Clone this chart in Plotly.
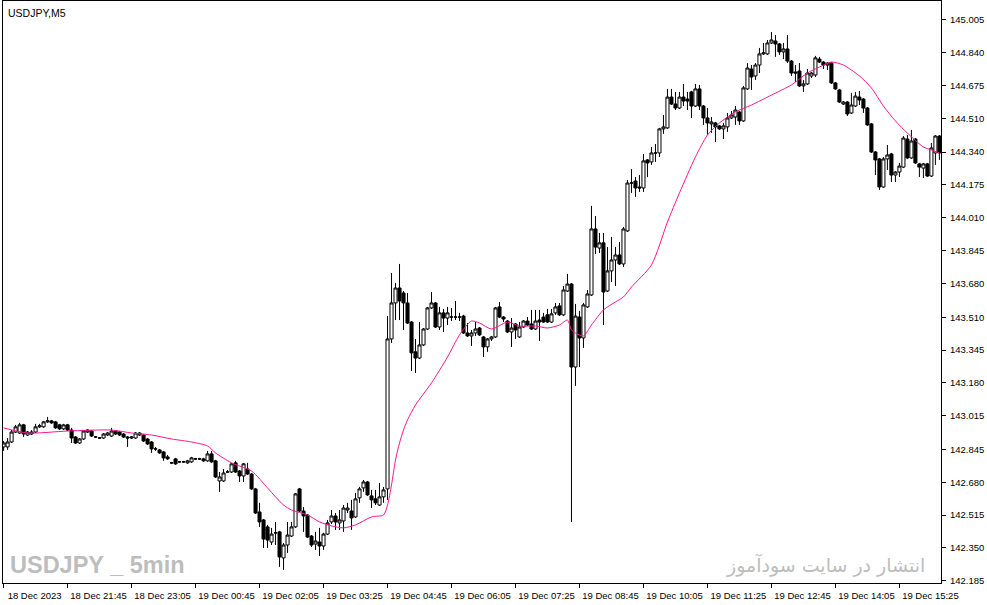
# USDJPY M5 candles with moving average, MetaTrader style
import plotly.graph_objects as go

# OHLC values, one per 5 minute bar
opens = [
    142.858, 142.858, 142.883, 142.933, 142.928, 142.969, 142.918, 142.923, 142.933, 142.959,
    142.959, 142.984, 142.989, 142.984, 142.969, 142.949, 142.969, 142.943, 142.908, 142.878,
    142.898, 142.933, 142.938, 142.908, 142.903, 142.903, 142.918, 142.913, 142.938, 142.933,
    142.923, 142.908, 142.903, 142.903, 142.918, 142.918, 142.898, 142.883, 142.848, 142.843,
    142.833, 142.808, 142.778, 142.798, 142.783, 142.783, 142.778, 142.783, 142.798, 142.798,
    142.798, 142.788, 142.823, 142.788, 142.687, 142.687, 142.732, 142.732, 142.778, 142.737,
    142.712, 142.747, 142.722, 142.647, 142.531, 142.491, 142.456, 142.380, 142.426, 142.431,
    142.300, 142.365, 142.410, 142.456, 142.647, 142.536, 142.516, 142.410, 142.370, 142.380,
    142.360, 142.420, 142.481, 142.511, 142.476, 142.486, 142.541, 142.536, 142.506, 142.602,
    142.652, 142.682, 142.612, 142.597, 142.566, 142.607, 142.647, 143.401, 143.582, 143.657,
    143.632, 143.582, 143.486, 143.336, 143.305, 143.371, 143.451, 143.557, 143.582, 143.461,
    143.532, 143.506, 143.511, 143.511, 143.511, 143.516, 143.431, 143.416, 143.431, 143.456,
    143.411, 143.361, 143.401, 143.411, 143.562, 143.511, 143.491, 143.436, 143.476, 143.411,
    143.461, 143.491, 143.476, 143.451, 143.496, 143.511, 143.522, 143.486, 143.532, 143.567,
    143.522, 143.642, 143.677, 143.260, 143.511, 143.406, 143.562, 143.622, 143.954, 143.858,
    143.884, 143.642, 143.743, 143.798, 143.823, 143.778, 143.944, 144.185, 144.195, 144.165,
    144.160, 144.301, 144.291, 144.336, 144.336, 144.457, 144.462, 144.617, 144.582, 144.562,
    144.617, 144.607, 144.643, 144.572, 144.658, 144.572, 144.512, 144.482, 144.487, 144.472,
    144.457, 144.467, 144.512, 144.517, 144.542, 144.497, 144.658, 144.758, 144.723, 144.778,
    144.834, 144.834, 144.889, 144.899, 144.884, 144.844, 144.859, 144.798, 144.743, 144.748,
    144.673, 144.683, 144.723, 144.728, 144.808, 144.793, 144.778, 144.788, 144.688, 144.653,
    144.582, 144.592, 144.537, 144.572, 144.617, 144.607, 144.562, 144.482, 144.341, 144.306,
    144.165, 144.306, 144.331, 144.225, 144.240, 144.265, 144.406, 144.311, 144.406, 144.281,
    144.260, 144.281, 144.220, 144.336, 144.421,
]
highs = [
    142.888, 142.903, 142.943, 142.969, 142.979, 142.974, 142.938, 142.943, 142.974, 142.974,
    142.989, 143.009, 142.994, 142.989, 142.974, 142.974, 142.974, 142.954, 142.913, 142.903,
    142.943, 142.948, 142.943, 142.913, 142.908, 142.928, 142.933, 142.954, 142.943, 142.938,
    142.928, 142.913, 142.913, 142.933, 142.933, 142.923, 142.903, 142.888, 142.858, 142.848,
    142.838, 142.818, 142.783, 142.803, 142.788, 142.788, 142.793, 142.808, 142.803, 142.803,
    142.803, 142.838, 142.838, 142.793, 142.732, 142.747, 142.742, 142.778, 142.788, 142.742,
    142.778, 142.778, 142.727, 142.652, 142.577, 142.496, 142.466, 142.451, 142.481, 142.436,
    142.375, 142.481, 142.481, 142.627, 142.652, 142.556, 142.521, 142.415, 142.431, 142.451,
    142.426, 142.491, 142.541, 142.526, 142.541, 142.566, 142.577, 142.592, 142.627, 142.657,
    142.692, 142.687, 142.642, 142.642, 142.677, 142.657, 143.516, 143.733, 143.682, 143.778,
    143.642, 143.632, 143.491, 143.401, 143.486, 143.456, 143.562, 143.637, 143.587, 143.562,
    143.552, 143.562, 143.557, 143.592, 143.532, 143.522, 143.481, 143.446, 143.486, 143.461,
    143.416, 143.406, 143.416, 143.562, 143.587, 143.516, 143.496, 143.506, 143.481, 143.486,
    143.496, 143.511, 143.547, 143.547, 143.547, 143.532, 143.552, 143.552, 143.582, 143.582,
    143.667, 143.728, 143.682, 143.577, 143.542, 143.582, 143.647, 144.070, 144.019, 143.934,
    143.934, 143.863, 143.914, 143.863, 143.889, 143.964, 144.200, 144.255, 144.215, 144.225,
    144.331, 144.306, 144.366, 144.381, 144.462, 144.527, 144.658, 144.658, 144.643, 144.643,
    144.683, 144.643, 144.648, 144.683, 144.678, 144.577, 144.562, 144.517, 144.492, 144.477,
    144.487, 144.537, 144.547, 144.572, 144.547, 144.673, 144.788, 144.778, 144.788, 144.864,
    144.889, 144.904, 144.944, 144.929, 144.889, 144.889, 144.929, 144.803, 144.778, 144.788,
    144.703, 144.758, 144.743, 144.824, 144.819, 144.798, 144.793, 144.793, 144.693, 144.658,
    144.597, 144.597, 144.638, 144.643, 144.648, 144.612, 144.567, 144.487, 144.346, 144.311,
    144.316, 144.376, 144.336, 144.245, 144.286, 144.421, 144.426, 144.452, 144.411, 144.286,
    144.286, 144.286, 144.386, 144.426, 144.426,
]
lows = [
    142.838, 142.843, 142.878, 142.928, 142.923, 142.908, 142.913, 142.918, 142.928, 142.954,
    142.954, 142.979, 142.974, 142.949, 142.943, 142.943, 142.938, 142.878, 142.873, 142.873,
    142.893, 142.928, 142.908, 142.903, 142.898, 142.898, 142.913, 142.908, 142.918, 142.913,
    142.903, 142.858, 142.898, 142.898, 142.913, 142.883, 142.868, 142.828, 142.838, 142.823,
    142.788, 142.793, 142.773, 142.768, 142.778, 142.778, 142.773, 142.778, 142.793, 142.793,
    142.783, 142.783, 142.778, 142.702, 142.632, 142.682, 142.727, 142.727, 142.727, 142.682,
    142.682, 142.717, 142.642, 142.521, 142.456, 142.350, 142.350, 142.365, 142.365, 142.255,
    142.240, 142.325, 142.405, 142.451, 142.531, 142.431, 142.400, 142.355, 142.340, 142.310,
    142.340, 142.415, 142.471, 142.441, 142.441, 142.431, 142.526, 142.441, 142.501, 142.577,
    142.632, 142.612, 142.551, 142.566, 142.561, 142.577, 142.592, 143.381, 143.496, 143.496,
    143.446, 143.476, 143.240, 143.230, 143.300, 143.366, 143.446, 143.552, 143.456, 143.446,
    143.436, 143.471, 143.491, 143.496, 143.491, 143.426, 143.411, 143.366, 143.416, 143.416,
    143.310, 143.336, 143.391, 143.406, 143.506, 143.486, 143.431, 143.361, 143.401, 143.406,
    143.456, 143.466, 143.446, 143.446, 143.391, 143.481, 143.481, 143.481, 143.522, 143.516,
    143.516, 143.637, 142.481, 143.165, 143.260, 143.356, 143.557, 143.617, 143.828, 143.833,
    143.471, 143.637, 143.687, 143.667, 143.773, 143.763, 143.939, 144.135, 144.115, 144.140,
    144.140, 144.215, 144.276, 144.291, 144.316, 144.432, 144.457, 144.577, 144.552, 144.557,
    144.572, 144.552, 144.512, 144.567, 144.552, 144.477, 144.427, 144.437, 144.391, 144.452,
    144.406, 144.442, 144.507, 144.477, 144.477, 144.492, 144.653, 144.653, 144.703, 144.738,
    144.829, 144.829, 144.884, 144.819, 144.829, 144.808, 144.788, 144.723, 144.693, 144.668,
    144.643, 144.678, 144.713, 144.718, 144.788, 144.758, 144.753, 144.683, 144.653, 144.587,
    144.577, 144.522, 144.532, 144.567, 144.577, 144.537, 144.472, 144.336, 144.225, 144.150,
    144.160, 144.250, 144.190, 144.190, 144.215, 144.260, 144.306, 144.306, 144.281, 144.215,
    144.210, 144.215, 144.215, 144.276, 144.301,
]
closes = [
    142.878, 142.883, 142.933, 142.959, 142.969, 142.923, 142.933, 142.933, 142.959, 142.964,
    142.984, 142.989, 142.979, 142.954, 142.949, 142.969, 142.943, 142.903, 142.878, 142.898,
    142.938, 142.943, 142.913, 142.908, 142.903, 142.923, 142.928, 142.938, 142.923, 142.918,
    142.908, 142.903, 142.908, 142.928, 142.928, 142.888, 142.873, 142.848, 142.848, 142.828,
    142.803, 142.798, 142.778, 142.773, 142.783, 142.783, 142.788, 142.803, 142.798, 142.798,
    142.788, 142.823, 142.783, 142.707, 142.707, 142.727, 142.732, 142.773, 142.732, 142.712,
    142.773, 142.722, 142.647, 142.526, 142.481, 142.395, 142.390, 142.420, 142.426, 142.305,
    142.365, 142.415, 142.456, 142.622, 142.536, 142.511, 142.405, 142.365, 142.385, 142.360,
    142.420, 142.476, 142.511, 142.481, 142.491, 142.551, 142.551, 142.501, 142.597, 142.647,
    142.682, 142.617, 142.592, 142.577, 142.607, 142.642, 143.401, 143.582, 143.657, 143.592,
    143.582, 143.481, 143.331, 143.305, 143.371, 143.451, 143.557, 143.582, 143.461, 143.532,
    143.506, 143.532, 143.511, 143.511, 143.511, 143.431, 143.416, 143.431, 143.451, 143.421,
    143.361, 143.401, 143.411, 143.557, 143.511, 143.501, 143.436, 143.456, 143.446, 143.461,
    143.491, 143.471, 143.451, 143.491, 143.486, 143.486, 143.486, 143.527, 143.562, 143.522,
    143.647, 143.677, 143.260, 143.516, 143.406, 143.572, 143.627, 143.954, 143.863, 143.884,
    143.637, 143.743, 143.798, 143.823, 143.778, 143.954, 144.185, 144.185, 144.160, 144.160,
    144.296, 144.286, 144.336, 144.336, 144.457, 144.467, 144.617, 144.582, 144.562, 144.617,
    144.597, 144.597, 144.572, 144.658, 144.572, 144.512, 144.487, 144.492, 144.467, 144.457,
    144.472, 144.512, 144.527, 144.552, 144.497, 144.663, 144.763, 144.718, 144.778, 144.834,
    144.839, 144.889, 144.904, 144.884, 144.844, 144.859, 144.798, 144.738, 144.738, 144.673,
    144.683, 144.738, 144.738, 144.814, 144.793, 144.778, 144.788, 144.688, 144.658, 144.592,
    144.592, 144.532, 144.577, 144.622, 144.602, 144.562, 144.477, 144.341, 144.301, 144.165,
    144.306, 144.326, 144.225, 144.240, 144.270, 144.411, 144.311, 144.396, 144.286, 144.265,
    144.281, 144.220, 144.361, 144.421, 144.336,
]

# moving average line, read at a set of bars
ma_bars = [0, 6, 16, 27, 32, 37, 42, 47, 51, 53, 57, 62, 66, 68, 70, 72, 76, 79, 82, 85,
           88, 92, 95, 96, 97, 98, 99, 100, 101, 103, 107, 111, 114, 117, 119, 122, 126, 129,
           133, 136, 139, 141, 142, 143, 145, 147, 150, 153, 155, 157, 162, 166, 169, 173, 176,
           179, 183, 187, 192, 197, 201, 204, 207, 210, 214, 217, 220, 223, 226, 230, 232, 234]
ma_vals = [142.954, 142.928, 142.938, 142.943, 142.928, 142.918, 142.898, 142.883, 142.863, 142.828,
           142.778, 142.737, 142.652, 142.607, 142.566, 142.541, 142.516, 142.481, 142.461, 142.451,
           142.466, 142.506, 142.516, 142.566, 142.667, 142.793, 142.878, 142.943, 142.994, 143.069,
           143.180, 143.310, 143.421, 143.491, 143.481, 143.451, 143.486, 143.466, 143.466, 143.456,
           143.471, 143.496, 143.446, 143.431, 143.416, 143.471, 143.547, 143.587, 143.612, 143.662,
           143.773, 143.989, 144.135, 144.316, 144.426, 144.487, 144.542, 144.577, 144.627, 144.678,
           144.738, 144.768, 144.793, 144.778, 144.723, 144.663, 144.572, 144.497, 144.436, 144.366,
           144.351, 144.336]

# time axis labels, one every 16 bars
time_labels = ["18 Dec 2023", "18 Dec 21:45", "18 Dec 23:05", "19 Dec 00:45", "19 Dec 02:05",
               "19 Dec 03:25", "19 Dec 04:45", "19 Dec 06:05", "19 Dec 07:25", "19 Dec 08:45",
               "19 Dec 10:05", "19 Dec 11:25", "19 Dec 12:45", "19 Dec 14:05", "19 Dec 15:25"]
price_ticks = [145.005, 144.840, 144.675, 144.510, 144.340, 144.175, 144.010, 143.845, 143.680,
               143.510, 143.345, 143.180, 143.015, 142.845, 142.680, 142.515, 142.350, 142.185]

bars = list(range(len(closes)))
label_step = 16
axisFont = dict(family="Liberation Sans", size=9.5, color="black")

fig = go.Figure()
fig.add_trace(go.Candlestick(
    x=bars, open=opens, high=highs, low=lows, close=closes,
    increasing=dict(fillcolor="white", line=dict(color="black", width=1)),
    decreasing=dict(fillcolor="black", line=dict(color="black", width=1)),
    whiskerwidth=0, showlegend=False, hoverinfo="skip"))
fig.add_trace(go.Scatter(x=ma_bars, y=ma_vals, mode="lines",
                         line=dict(color="#ff1493", width=1, shape="spline", smoothing=0.7),
                         showlegend=False, hoverinfo="skip"))

fig.add_annotation(text="USDJPY,M5", xref="paper", yref="paper", x=0.003, y=0.979,
                   xanchor="left", yanchor="middle", showarrow=False,
                   font=dict(family="Liberation Sans", size=10.5, color="black"))
fig.add_annotation(text="USDJPY _ 5min", xref="paper", yref="paper", x=0.005, y=0.031,
                   xanchor="left", yanchor="middle", showarrow=False,
                   font=dict(family="Liberation Sans", size=23.5, color="#bdbdbd", weight="bold"))
fig.add_annotation(text="انتشار در سایت سودآموز", xref="paper", yref="paper", x=0.985, y=0.031,
                   xanchor="right", yanchor="middle", showarrow=False,
                   font=dict(family="DejaVu Sans", size=19, color="#bdbdbd"))

fig.update_layout(
    width=987, height=605,
    margin=dict(l=3, r=46, t=1, b=22),
    paper_bgcolor="white", plot_bgcolor="white",
    boxgap=0.15, boxgroupgap=0.1,
    xaxis=dict(range=[-0.15, 234.4], rangeslider=dict(visible=False), showgrid=False, zeroline=False,
               tickmode="array", tickvals=[i * label_step for i in range(len(time_labels))],
               ticktext=time_labels, ticks="outside", ticklen=4, tickcolor="black",
               ticklabelshift=31, ticklabelstandoff=0,
               showline=True, mirror=True, linecolor="black", linewidth=1, tickfont=axisFont),
    yaxis=dict(side="right", range=[142.174, 145.100], showgrid=False, zeroline=False,
               tickmode="array", tickvals=price_ticks, ticktext=["%.3f" % v for v in price_ticks],
               ticks="outside", ticklen=4, tickcolor="black", ticklabelstandoff=2,
               showline=True, mirror=True, linecolor="black", linewidth=1, tickfont=axisFont),
)

# page body margin would push the chart off the 987x605 window
fig.write_html("out.html", config={"displayModeBar": False},
               post_script="document.body.style.margin='0';")
